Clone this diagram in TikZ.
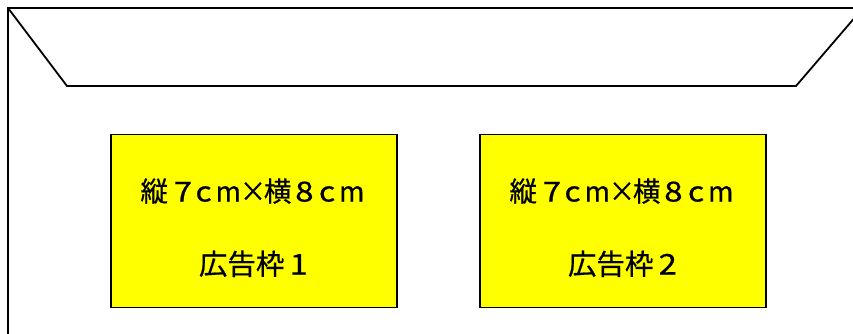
\documentclass[tikz,border=0pt]{standalone}
\usepackage{fontspec}
\usepackage{graphicx}
\newfontfamily\jp{Noto Sans CJK JP}[FakeBold=0.6]
\definecolor{adyellow}{RGB}{255,255,0}
\newcommand{\zcell}[1]{\makebox[24.7pt]{#1}}
\newcommand{\zlat}[3][0pt]{\makebox[24.7pt]{\hspace{#1}\scalebox{#2}[1]{#3}}}
\newcommand{\zx}{\makebox[24.7pt]{\scalebox{0.95}[1.0]{×}}}
\begin{document}
\begin{tikzpicture}[x=1pt,y=-1pt,
  frame/.style={draw=black,line width=1.8pt,line join=miter},
  adbox/.style={draw=black,line width=1.8pt,fill=adyellow,rectangle,minimum width=286pt,minimum height=173pt,inner sep=0pt},
  adtexta/.style={font=\jp\fontsize{27.5}{30}\selectfont,inner sep=0pt,anchor=base},
  adtextb/.style={font=\jp\fontsize{28.5}{30}\selectfont,inner sep=0pt,anchor=base}]
\useasboundingbox[fill=white] (0,0) rectangle (853,334);
\begin{scope}
\clip (0,0) rectangle (853,334);
\coordinate (tl) at (8,8);
\draw[frame] (8,345) -- (tl) -- (870,8);
\draw[frame] (tl) -- (67,86) -- (796,86) -- (863,8);
\end{scope}
\node[adbox] (b1) at (254,221) {};
\node[adbox] (b2) at (623,221) {};
\node[adtexta] (t1a) at (253,201.5) {\zcell{縦}\zlat[8pt]{1.2}{7}\zlat{1.15}{c}\zlat{1.0}{m}\zx\zcell{横}\zlat[4pt]{1.2}{8}\zlat{1.15}{c}\zlat{1.0}{m}};
\node[adtextb] (t1b) at (256,274.5) {広告枠\makebox[1em]{\scalebox{1.15}[1]{1}}};
\node[adtexta] (t2a) at (622,201.5) {\zcell{縦}\zlat[8pt]{1.2}{7}\zlat{1.15}{c}\zlat{1.0}{m}\zx\zcell{横}\zlat[4pt]{1.2}{8}\zlat{1.15}{c}\zlat{1.0}{m}};
\node[adtextb] (t2b) at (625,274.5) {広告枠\makebox[1em]{\scalebox{1.15}[1]{2}}};
\end{tikzpicture}
\end{document}
